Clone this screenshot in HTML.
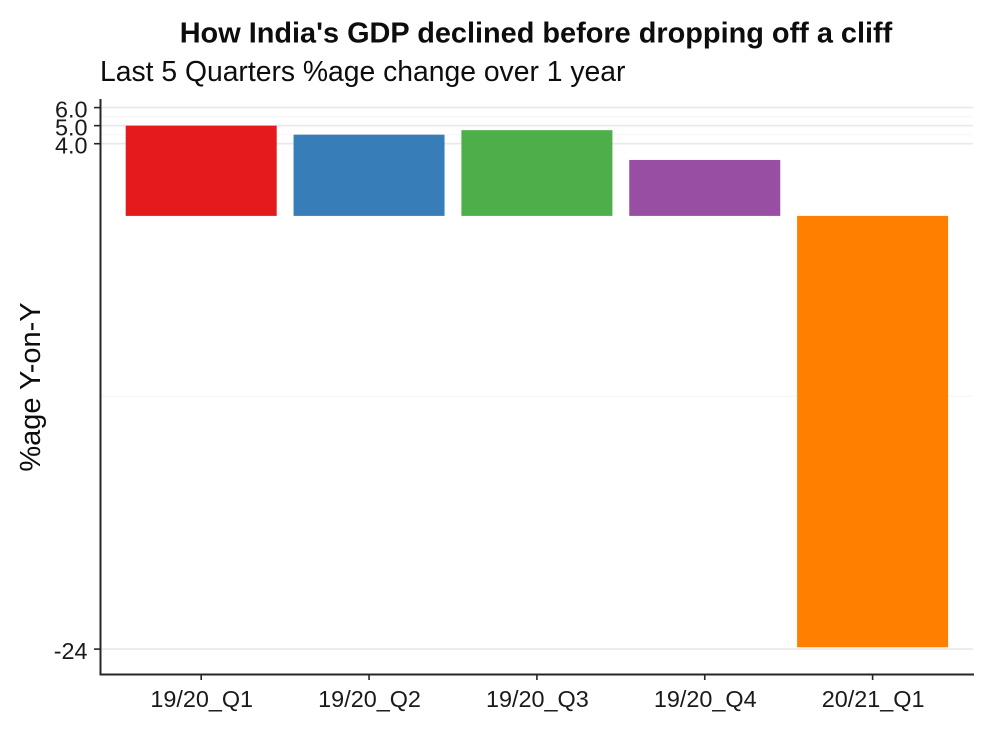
<!DOCTYPE html>
<html>
<head>
<meta charset="utf-8">
<style>
html,body{margin:0;padding:0;background:#fff;width:982px;height:749px;overflow:hidden}
svg{display:block}
text{font-family:"Liberation Sans",Arial,sans-serif;fill:#1a1a1a}
</style>
</head>
<body>
<svg id="chart" xmlns="http://www.w3.org/2000/svg" width="982" height="749" viewBox="0 0 982 749">
<rect x="0" y="0" width="982" height="749" fill="#ffffff"/>
<text x="536" y="42.5" text-anchor="middle" font-size="28.9" font-weight="700" style="fill:#0d0d0d">How India's GDP declined before dropping off a cliff</text>
<text x="100" y="81" font-size="28.3" style="fill:#0d0d0d">Last 5 Quarters %age change over 1 year</text>
<text x="0" y="0" transform="translate(40,387) rotate(-90)" text-anchor="middle" font-size="29" style="fill:#0d0d0d">%age Y-on-Y</text>
<g id="grid"></g>
<g id="bars"></g>
<g id="axes"></g>
</svg>
<script>
const categories = ["19/20_Q1", "19/20_Q2", "19/20_Q3", "19/20_Q4", "20/21_Q1"];
const values = [5.0, 4.5, 4.75, 3.1, -23.9];
const barColors = ["#e41a1c", "#377eb8", "#4daf4a", "#984ea3", "#ff7f00"];
const majorTicks = [6, 5, 4, -24];
const majorTickLabels = ["6.0", "5.0", "4.0", "-24"];
const minorTicks = [5.5, 4.5, -10];

const NS = "http://www.w3.org/2000/svg";
const yScale = v => 215.9 - 18.05 * v;
const xScale = i => 201.2 + 167.85 * i;
const BAR_WIDTH = 151;
const LEFT = 100.5, RIGHT = 974, BOTTOM = 674.5, TOP = 99;

function make(tag, attrs, parent) {
  const el = document.createElementNS(NS, tag);
  for (const k in attrs) el.setAttribute(k, attrs[k]);
  parent.appendChild(el);
  return el;
}

const grid = document.getElementById("grid");
const bars = document.getElementById("bars");
const axes = document.getElementById("axes");

minorTicks.forEach(v => {
  const l = make("line", {x1: LEFT, x2: 973, y1: yScale(v), y2: yScale(v), stroke: "#f7f7f7", "stroke-width": 1.2}, grid);
  
  
});
majorTicks.forEach(v => {
  const l = make("line", {x1: LEFT, x2: 973, y1: yScale(v), y2: yScale(v), stroke: "#e8e8e8", "stroke-width": 1.6}, grid);
  
  
});

values.forEach((v, i) => {
  const y0 = yScale(0), y1 = yScale(v);
  const r = make("rect", {
    x: xScale(i) - BAR_WIDTH / 2,
    y: Math.min(y0, y1),
    width: BAR_WIDTH,
    height: Math.abs(y1 - y0),
    fill: barColors[i]
  }, bars);
  
  
});

const yAxis = make("line", {x1: LEFT, x2: LEFT, y1: TOP, y2: BOTTOM + 1, stroke: "#262626", "stroke-width": 2}, axes);


const xAxis = make("line", {x1: LEFT - 1, x2: RIGHT, y1: BOTTOM, y2: BOTTOM, stroke: "#262626", "stroke-width": 2}, axes);



majorTicks.forEach((v, i) => {
  const t = make("line", {x1: 94, x2: LEFT, y1: yScale(v), y2: yScale(v), stroke: "#262626", "stroke-width": 1.6}, axes);
  
  
  const s = make("text", {x: 87.5, y: yScale(v) + 10, "text-anchor": "end", "font-size": 23.4}, axes);
  s.textContent = majorTickLabels[i];
  
  
});

categories.forEach((c, i) => {
  const t = make("line", {x1: xScale(i), x2: xScale(i), y1: BOTTOM, y2: 680, stroke: "#262626", "stroke-width": 1.6}, axes);
  
  
  const s = make("text", {x: xScale(i) + 0.5, y: 707, "text-anchor": "middle", "font-size": 23.4}, axes);
  s.textContent = c;
  
  
});
</script>
</body>
</html>
